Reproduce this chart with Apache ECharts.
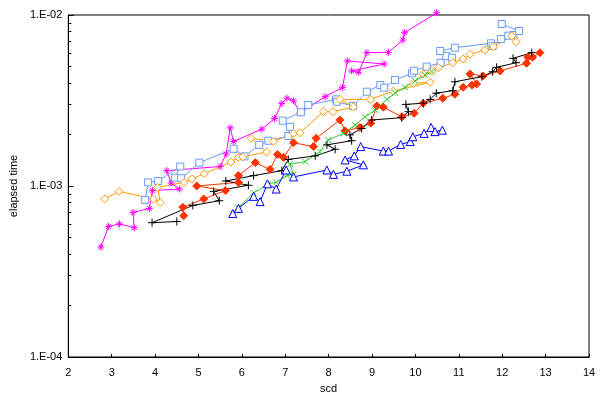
<!DOCTYPE html>
<html>
<head>
<meta charset="utf-8">
<script src="https://cdn.jsdelivr.net/npm/echarts@6/dist/echarts.min.js"></script>
<style>
html,body{margin:0;padding:0;background:#fff;}
#chart{width:603px;height:409px;}
</style>
</head>
<body>
<div id="chart"></div>
<script>
// x = scd, y = elapsed time in units of 1e-3
var magentaX = [2.75,2.93,3.18,3.52,3.49,3.87,3.94,4.56,4.37,4.27,5.50,5.64,5.73,5.81,6.46,6.75,6.92,7.04,7.19,7.34,7.92,8.32,8.43,9.28,8.53,8.69,8.88,9.38,9.71,9.75,10.49];
var magentaY = [0.44,0.58,0.60,0.57,0.70,0.74,0.94,0.96,1.04,1.23,1.30,1.54,2.19,1.82,2.15,2.48,3.04,3.26,3.15,2.68,3.33,3.77,5.39,5.17,4.71,4.62,6.02,6.05,7.14,7.88,10.3];

var skyX = [3.77,3.84,4.07,4.58,4.46,4.60,5.02,5.81,6.06,6.40,6.61,7.07,7.11,6.94,7.36,7.53,8.17,8.19,8.56,8.88,9.19,9.28,9.53,9.92,9.97,10.26,10.58,10.71,10.84,10.57,10.91,11.74,11.78,11.97,12.14,12.26,12.39,11.99];
var skyY = [0.83,1.05,1.07,1.30,1.12,1.11,1.37,1.65,1.49,1.74,1.84,1.96,2.22,2.41,2.70,2.98,3.21,3.11,2.94,3.56,3.89,3.76,4.17,4.56,4.72,4.99,5.26,5.76,5.63,6.16,6.44,6.83,6.59,7.24,7.57,7.64,8.06,8.86];

var orangeX = [2.84,3.17,3.96,4.12,4.06,4.67,4.85,5.13,5.75,5.92,6.02,6.57,6.21,6.73,7.19,7.34,7.88,8.10,8.57,8.26,8.96,9.49,10.34,9.95,10.18,10.38,10.53,10.86,11.10,11.26,11.60,11.80,12.22,12.32];
var orangeY = [0.84,0.93,0.84,0.80,0.98,1.05,1.10,1.18,1.38,1.47,1.48,1.58,1.90,1.82,2.03,2.05,2.72,2.72,2.90,3.21,3.21,3.59,4.04,3.98,4.52,4.69,4.92,5.26,5.53,5.89,6.24,6.52,7.54,6.98];

var redX = [4.66,4.64,5.12,5.62,4.96,5.92,5.92,6.31,6.65,6.82,6.96,7.19,7.65,7.71,8.26,8.38,8.72,8.97,9.11,9.26,9.69,9.97,10.18,10.63,10.91,11.10,11.30,11.41,11.26,11.56,11.95,12.56,12.59,12.70,12.87];
var redY = [0.67,0.75,0.84,0.94,1.00,1.05,1.15,1.37,1.25,1.53,1.47,1.79,1.70,1.90,2.43,2.10,2.20,2.33,2.94,2.89,2.54,2.66,3.05,3.26,3.44,3.78,3.89,3.95,4.52,4.40,4.71,5.22,5.66,5.66,6.02];

var blackX = [4.50,3.93,4.87,5.48,5.35,6.15,5.63,6.27,6.92,7.07,7.69,8.15,7.96,8.53,8.49,8.76,8.99,9.68,9.84,9.78,10.18,10.34,10.48,10.86,10.91,11.53,11.78,11.87,12.32,12.25,12.68];
var blackY = [0.62,0.61,0.77,0.82,0.93,1.01,1.07,1.15,1.23,1.43,1.50,1.64,1.74,1.84,1.99,2.17,2.43,2.51,2.72,3.00,3.05,3.21,3.49,3.61,4.07,4.36,4.66,4.94,5.26,5.58,6.02];

var greenX = [5.79,5.92,6.27,6.61,6.79,7.04,7.19,7.11,7.46,7.80,7.99,8.34,8.61,8.84,9.07,9.34,9.53,9.76,9.99,10.22,10.38];
var greenY = [0.69,0.75,0.91,1.03,1.05,1.15,1.17,1.34,1.39,1.59,1.86,2.03,2.27,2.54,2.78,3.21,3.49,3.78,4.11,4.46,4.66];

var blueX = [5.79,5.92,6.27,6.42,6.59,6.79,7.02,7.19,7.96,8.11,8.42,8.80,8.38,8.59,8.74,9.26,9.38,9.66,9.88,9.94,10.20,10.36,10.45,10.62];
var blueY = [0.69,0.74,0.87,0.81,1.03,0.96,1.24,1.13,1.24,1.17,1.22,1.33,1.42,1.50,1.70,1.60,1.60,1.75,1.82,1.94,2.03,2.20,2.08,2.12];

var asterisk = 'path://M5,0L5,10M0,5L10,5M1.5,1.5L8.5,8.5M8.5,1.5L1.5,8.5';
var plus = 'path://M5,0L5,10M0,5L10,5';
var cross = 'path://M0,0L10,10M10,0L0,10';

function pts(xs, ys){
    var out = [];
    for(var i=0;i<xs.length;i++)
        out.push([xs[i], ys[i]/1000]);
    return out;
}

function line(xs, ys, color, symbol, size, filled){
    return {
        type: 'line',
        data: pts(xs, ys),
        symbol: symbol,
        symbolSize: size,
        showAllSymbol: true,
        clip: false,
        lineStyle: {color: color, width: 1},
        itemStyle: {color: filled ? color : '#fff', borderColor: color, borderWidth: 1},
        emphasis: {disabled: true}
    };
}

var chart = echarts.init(document.getElementById('chart'));
var labelFont = {fontFamily: 'Liberation Sans, Arial, sans-serif', fontSize: 11, color: '#000'};

var option = {
    animation: false,
    backgroundColor: '#fff',
    grid: {left: 68, right: 14, top: 15, bottom: 52, show: true, borderColor: '#000', borderWidth: 1},
    xAxis: {
        type: 'value', min: 2, max: 14, interval: 1,
        name: 'scd', nameLocation: 'middle', nameGap: 26,
        nameTextStyle: labelFont,
        axisLine: {lineStyle: {color: '#000'}},
        axisTick: {inside: true, length: 3, lineStyle: {color: '#000'}},
        axisLabel: Object.assign({margin: 10}, labelFont),
        splitLine: {show: false}
    },
    yAxis: {
        type: 'log', logBase: 10, min: 1e-4, max: 1e-2,
        name: 'elapsed time', nameLocation: 'middle', nameGap: 45,
        nameTextStyle: labelFont,
        axisLine: {lineStyle: {color: '#000'}},
        axisTick: {inside: true, length: 5, lineStyle: {color: '#000'}},
        minorTick: {show: true, splitNumber: 9, length: 3, lineStyle: {color: '#000'}},
        axisLabel: Object.assign({
            margin: 6,
            formatter: function(v){
                return '1.E-0' + Math.round(-Math.log10(v));
            }
        }, labelFont),
        splitLine: {show: false},
        minorSplitLine: {show: false}
    },
    series: [
        line(magentaX, magentaY, '#ff00ff', asterisk, 7, false),
        line(skyX, skyY, '#6699ff', 'rect', 7, false),
        line(orangeX, orangeY, '#ff9900', 'diamond', 8, false),
        line(redX, redY, '#ff3300', 'diamond', 8, true),
        line(blackX, blackY, '#000000', plus, 8, false),
        line(greenX, greenY, '#33cc33', cross, 6, false),
        line(blueX, blueY, '#0000ff', 'triangle', 8, false)
    ]
};
chart.setOption(option);
</script>
</body>
</html>
